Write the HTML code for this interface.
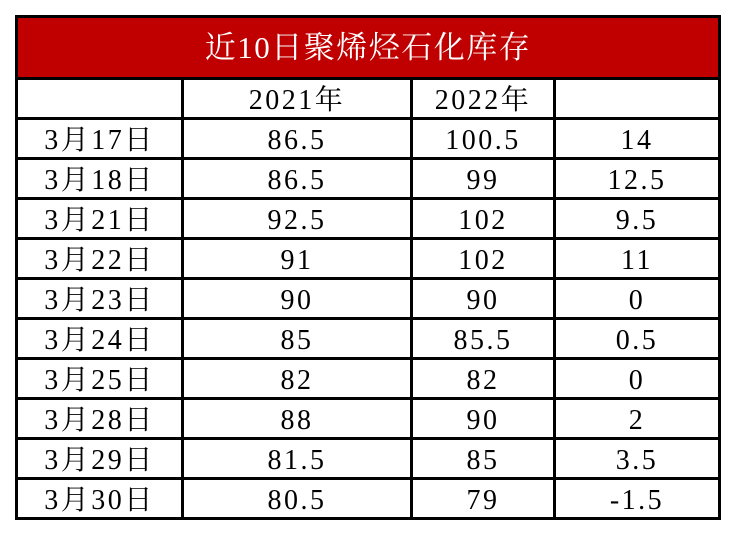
<!DOCTYPE html>
<html><head><meta charset="utf-8"><style>
body{margin:0;width:736px;height:536px;background:#fff;position:relative;overflow:hidden;font-family:"Liberation Serif","Noto Serif CJK SC",serif;}
.h{position:absolute;background:#000;height:3px;left:15px;width:706px}
.v{position:absolute;background:#000;width:3px;top:77px;height:443px}
.t{position:absolute;height:40px;line-height:42px;text-align:center;font-size:28px;letter-spacing:2.5px;color:#000}
</style></head><body>
<div style="position:absolute;left:15px;top:15px;width:706px;height:63px;background:#c00000"></div>
<div style="position:absolute;left:15px;top:15px;width:706px;height:62px;line-height:66px;text-align:center;color:#fff;font-size:31px;letter-spacing:1.5px">近10日聚烯烃石化库存</div>
<div class="h" style="top:15px"></div>
<div class="v" style="left:15px;top:15px;height:505px"></div>
<div class="v" style="left:718px;top:15px;height:505px"></div>
<div class="v" style="left:181px"></div>
<div class="v" style="left:410px"></div>
<div class="v" style="left:553px"></div>
<script>
var lines=[77,117,157,197,237,277,317,357,397,437,477,517];
lines.forEach(function(y){var d=document.createElement('div');d.className='h';d.style.top=y+'px';document.body.appendChild(d);});
var data=[["","2021年","2022年",""],["3月17日","86.5","100.5","14"],["3月18日","86.5","99","12.5"],["3月21日","92.5","102","9.5"],["3月22日","91","102","11"],["3月23日","90","90","0"],["3月24日","85","85.5","0.5"],["3月25日","82","82","0"],["3月28日","88","90","2"],["3月29日","81.5","85","3.5"],["3月30日","80.5","79","-1.5"]];
var cols=[[18,163],[184,226],[413,140],[556,162]];
data.forEach(function(r,i){r.forEach(function(s,j){var d=document.createElement('div');d.className='t';d.style.left=cols[j][0]+'px';d.style.width=cols[j][1]+'px';d.style.top=(80+i*40)+'px';d.textContent=s;document.body.appendChild(d);});});
</script>
</body></html>
